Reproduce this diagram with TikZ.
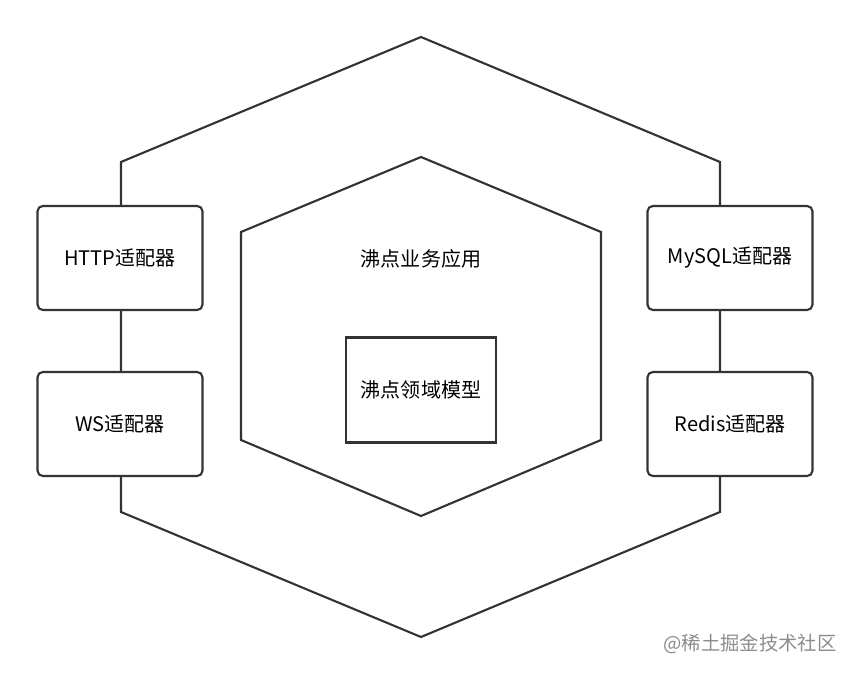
\documentclass[tikz,border=0pt]{standalone}
\usepackage{fontspec}
\setmainfont{Noto Sans CJK SC}
\begin{document}
\begin{tikzpicture}[x=0.02cm,y=-0.02cm,
    adapter/.style={draw=black!80,line width=1.2pt,rounded corners=3pt,fill=white,minimum width=3.3cm,minimum height=2.08cm,font=\fontsize{11.4}{13}\selectfont},
    hexline/.style={draw=black!80,line width=1.2pt,fill=white}]
    \useasboundingbox (0,0) rectangle (850,675);
    % outer hexagon
    \draw[hexline] (421,37) -- (720,162) -- (720,512) -- (421,637) -- (121,512) -- (121,162) -- cycle;
    % inner hexagon
    \draw[hexline] (421,157) -- (601,232) -- (601,440) -- (421,516) -- (241,440) -- (241,232) -- cycle;
    \node[font=\fontsize{11.4}{13}\selectfont] (app) at (421,259) {沸点业务应用};
    \node[draw=black!80,line width=1.2pt,minimum width=3cm,minimum height=2.1cm,font=\fontsize{11.4}{13}\selectfont] (domain) at (421,390) {沸点领域模型};
    % adapters
    \node[adapter] (http) at (120,258) {HTTP适配器};
    \node[adapter] (ws) at (120,424) {WS适配器};
    \node[adapter] (mysql) at (730,258) {MySQL适配器};
    \node[adapter] (redis) at (730,424) {Redis适配器};
    \node[text=black!45,font=\fontsize{11}{13}\selectfont] (mark) at (750,644) {@稀土掘金技术社区};
\end{tikzpicture}
\end{document}
